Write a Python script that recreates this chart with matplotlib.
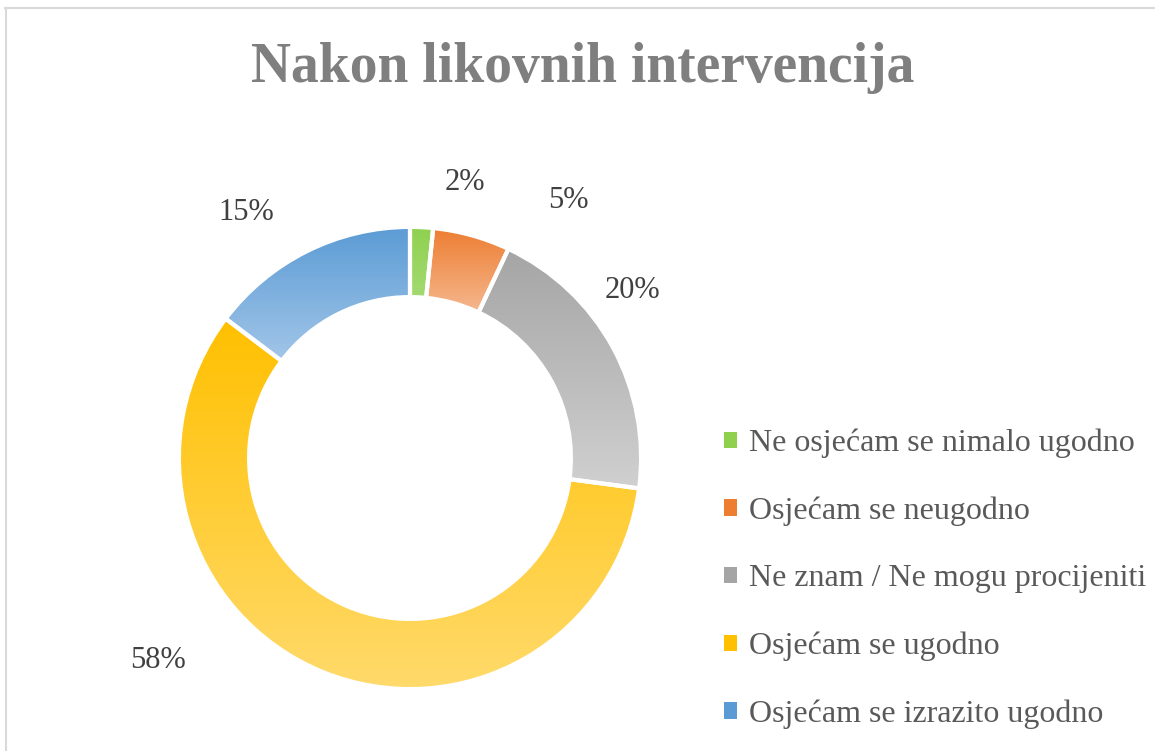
import numpy as np
import matplotlib
matplotlib.use('Agg')
import matplotlib.pyplot as plt
from matplotlib.colors import LinearSegmentedColormap
from matplotlib.lines import Line2D
from matplotlib.patches import Patch

# data
categories = ['Ne osjećam se nimalo ugodno', 'Osjećam se neugodno',
              'Ne znam / Ne mogu procijeniti', 'Osjećam se ugodno',
              'Osjećam se izrazito ugodno']
shares = [1.6, 5.4, 20.1, 58.2, 14.7]
title = 'Nakon likovnih intervencija'

# styles (top colour, bottom colour of the gradient)
gradients = [('#8fd14f', '#a3da72'), ('#ed7d31', '#f5b78e'),
             ('#a5a5a5', '#d0d0d0'), ('#ffc000', '#ffda6b'),
             ('#5b9bd5', '#a2c6e8')]
# label positions in pixel coords (x, y from top)
label_pos = [(465, 183), (568, 200), (632, 290), (158, 661), (246, 212)]

W, H = 1155, 751
fig = plt.figure(figsize=(W / 100, H / 100), dpi=100)
ax = fig.add_axes([0, 0, 1, 1])

lw = 3.0
pad = lw * 100 / 72 / 2
cx, cy, r_out, ring = 410, H - 458, 229, 66

wedges, _ = ax.pie(shares, center=(cx, cy), radius=r_out + pad, startangle=90,
                   counterclock=False,
                   wedgeprops=dict(width=ring + 2 * pad, edgecolor='white', linewidth=lw))

for w, (c_top, c_bot) in zip(wedges, gradients):
    ext = w.get_path().get_extents(w.get_patch_transform())
    cmap = LinearSegmentedColormap.from_list('g', [c_top, c_bot])
    grad = np.linspace(0, 1, 256).reshape(-1, 1)
    im = ax.imshow(grad, cmap=cmap, aspect='auto', origin='upper',
                   extent=(ext.x0, ext.x1, ext.y0, ext.y1), zorder=1,
                   interpolation='bilinear')
    im.set_clip_path(w)
    w.set_facecolor('none')
    w.set_zorder(2)

for s, (x, y) in zip(shares, label_pos):
    ax.text(x, H - y, '%.0f%%' % s, ha='center', va='center',
            fontsize=22, family='Liberation Serif', color='#404040')

ax.set_xlim(0, W)
ax.set_ylim(0, H)
ax.axis('off')

fig.text(583 / W, 1 - 68 / H, title, ha='center', va='center', fontsize=40,
         fontweight='bold', family='Liberation Serif', color='#7f7f7f')

handles = [Patch(facecolor=c[0], edgecolor='none') for c in gradients]
leg = fig.legend(handles, categories, loc='upper left',
                 bbox_to_anchor=(711 / W, 1 - 416 / H), frameon=False,
                 borderaxespad=0,
                 prop={'family': 'Liberation Serif', 'size': 23},
                 labelcolor='#595959', handlelength=0.42, handleheight=0.42,
                 handletextpad=0.36, labelspacing=1.2)

# chart border (top and left visible)
fig.add_artist(Line2D([5 / W, 1], [1 - 7.5 / H, 1 - 7.5 / H], color='#d9d9d9', lw=1.5))
fig.add_artist(Line2D([5.5 / W, 5.5 / W], [0, 1 - 7.5 / H], color='#d9d9d9', lw=1.5))

fig.savefig('out.png', dpi=100)
